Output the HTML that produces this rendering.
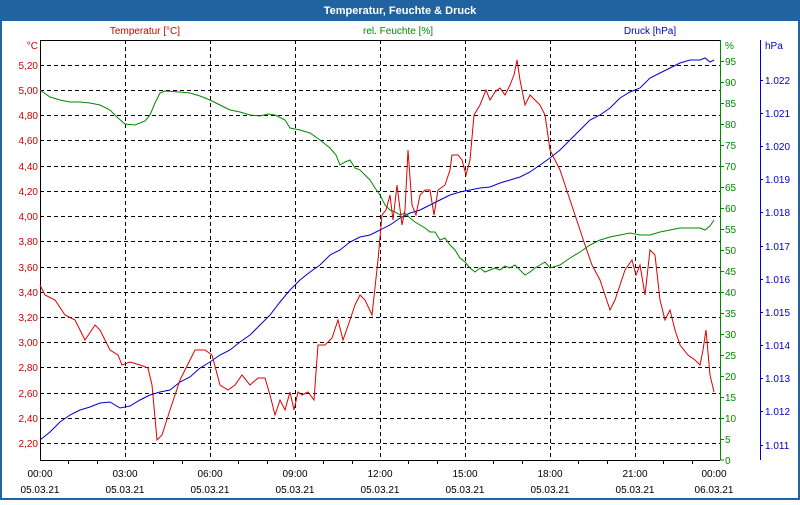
<!DOCTYPE html>
<html><head><meta charset="utf-8"><style>
body{margin:0;width:800px;height:500px;overflow:hidden;background:#fff;font-family:"Liberation Sans",sans-serif}
</style></head><body>
<svg width="800" height="500" xmlns="http://www.w3.org/2000/svg" font-family="Liberation Sans, sans-serif" font-size="10">
<rect x="0" y="0" width="800" height="500" fill="#2163a0"/>
<rect x="2" y="21" width="796" height="477" fill="#fff"/>
<text x="400" y="14" fill="#fff" font-weight="bold" font-size="11" text-anchor="middle">Temperatur, Feuchte &amp; Druck</text>
<text x="145" y="34" fill="#c00" text-anchor="middle">Temperatur [°C]</text>
<text x="398" y="34" fill="#080" text-anchor="middle">rel. Feuchte [%]</text>
<text x="650" y="34" fill="#00c" text-anchor="middle">Druck [hPa]</text>
<g stroke="#000" stroke-dasharray="4,3" stroke-width="1">
<path d="M125.5 40V460M210.5 40V460M295.5 40V460M380.5 40V460M465.5 40V460M550.5 40V460M635.5 40V460"/>
<path d="M40 65.5H720M40 90.5H720M40 115.5H720M40 140.5H720M40 166.5H720M40 191.5H720M40 216.5H720M40 241.5H720M40 267.5H720M40 292.5H720M40 317.5H720M40 342.5H720M40 367.5H720M40 393.5H720M40 418.5H720M40 443.5H720"/>
</g>
<path d="M40.5 460V40.5H720" stroke="#000" fill="none"/>
<path d="M40 460.5H720" stroke="#000"/>
<g stroke="#000"><path d="M68.5 460v4M97.5 460v4M153.5 460v4M182.5 460v4M238.5 460v4M267.5 460v4M323.5 460v4M352.5 460v4M408.5 460v4M437.5 460v4M493.5 460v4M522.5 460v4M578.5 460v4M607.5 460v4M663.5 460v4M692.5 460v4"/></g>
<path d="M720.5 40V460" stroke="#080"/>
<g stroke="#080"><path d="M720 61.5h4M720 82.5h4M720 103.5h4M720 124.5h4M720 145.5h4M720 166.5h4M720 187.5h4M720 208.5h4M720 229.5h4M720 250.5h4M720 271.5h4M720 292.5h4M720 313.5h4M720 334.5h4M720 355.5h4M720 376.5h4M720 397.5h4M720 418.5h4M720 439.5h4M720 460h4"/></g>
<path d="M760.5 40V460" stroke="#00c"/>
<g stroke="#00c"><path d="M760 80.5h3M760 113.5h3M760 146.5h3M760 179.5h3M760 212.5h3M760 246.5h3M760 279.5h3M760 312.5h3M760 345.5h3M760 378.5h3M760 411.5h3M760 445.5h3"/></g>
<g fill="#c00" text-anchor="end">
<text x="38" y="49">°C</text>
<text x="38" y="69">5,20</text><text x="38" y="94">5,00</text><text x="38" y="119">4,80</text><text x="38" y="144">4,60</text><text x="38" y="170">4,40</text><text x="38" y="195">4,20</text><text x="38" y="220">4,00</text><text x="38" y="245">3,80</text><text x="38" y="271">3,60</text><text x="38" y="296">3,40</text><text x="38" y="321">3,20</text><text x="38" y="346">3,00</text><text x="38" y="371">2,80</text><text x="38" y="397">2,60</text><text x="38" y="422">2,40</text><text x="38" y="447">2,20</text>
</g>
<g fill="#080">
<text x="725" y="49">%</text>
<text x="725" y="65">95</text><text x="725" y="86">90</text><text x="725" y="107">85</text><text x="725" y="128">80</text><text x="725" y="149">75</text><text x="725" y="170">70</text><text x="725" y="191">65</text><text x="725" y="212">60</text><text x="725" y="233">55</text><text x="725" y="254">50</text><text x="725" y="275">45</text><text x="725" y="296">40</text><text x="725" y="317">35</text><text x="725" y="338">30</text><text x="725" y="359">25</text><text x="725" y="380">20</text><text x="725" y="401">15</text><text x="725" y="422">10</text><text x="725" y="443">5</text><text x="725" y="464">0</text>
</g>
<g fill="#00c">
<text x="765" y="49">hPa</text>
<text x="765" y="84">1.022</text><text x="765" y="117">1.021</text><text x="765" y="150">1.020</text><text x="765" y="183">1.019</text><text x="765" y="216">1.018</text><text x="765" y="250">1.017</text><text x="765" y="283">1.016</text><text x="765" y="316">1.015</text><text x="765" y="349">1.014</text><text x="765" y="382">1.013</text><text x="765" y="415">1.012</text><text x="765" y="449">1.011</text>
</g>
<g fill="#000" text-anchor="middle">
<text x="40" y="477">00:00</text><text x="125" y="477">03:00</text><text x="210" y="477">06:00</text><text x="295" y="477">09:00</text><text x="380" y="477">12:00</text><text x="465" y="477">15:00</text><text x="550" y="477">18:00</text><text x="635" y="477">21:00</text><text x="714" y="477">00:00</text>
<text x="40" y="493">05.03.21</text><text x="125" y="493">05.03.21</text><text x="210" y="493">05.03.21</text><text x="295" y="493">05.03.21</text><text x="380" y="493">05.03.21</text><text x="465" y="493">05.03.21</text><text x="550" y="493">05.03.21</text><text x="635" y="493">05.03.21</text><text x="714" y="493">06.03.21</text>
</g>
<polyline fill="none" stroke="#00c" points="40,440 50,432 60,422 70,415 80,410 90,407 100,403 110,402 120,408 130,406 140,400 150,395 160,392 170,390 180,382 190,377 200,368 210,362 220,355 230,350 240,342 250,335 260,325 270,315 280,302 290,290 300,280 310,272 320,265 330,255 340,250 350,242 360,237 370,235 380,230 390,225 400,218 410,213 420,210 430,205 440,200 450,195 460,192 470,190 480,188 490,187 500,183 510,180 520,177 530,172 540,165 550,158 560,150 570,140 580,130 590,120 600,115 610,108 620,98 630,92 640,88 650,78 660,73 670,68 680,63 690,60 700,60 705,58 710,62 714,60"/>
<polyline fill="none" stroke="#080" points="40,90 50,97 60,100 70,102 80,102 90,103 100,105 110,110 118,118 125,124 135,125 145,121 150,115 155,103 160,93 165,91 180,92 190,93 200,96 210,100 220,105 230,110 240,112 250,115 260,116 268,114 275,115 285,120 290,128 300,130 310,133 320,140 330,148 336,155 340,165 345,162 350,160 355,168 360,170 365,175 370,180 375,188 380,195 385,205 390,210 395,212 400,215 405,213 410,218 415,222 420,225 425,228 430,232 435,232 440,240 445,238 450,245 455,250 460,258 465,262 470,268 475,272 480,268 485,272 490,270 495,268 500,270 505,266 510,268 515,265 520,270 525,275 530,272 535,268 540,265 545,262 550,268 560,265 570,258 580,252 590,245 600,240 610,237 620,235 630,233 640,235 650,235 660,232 670,230 680,228 690,228 700,228 705,230 710,226 714,220"/>
<polyline fill="none" stroke="#d00" points="40,285 45,295 55,300 65,315 75,320 85,340 95,325 100,330 110,350 118,355 122,365 130,362 140,365 148,368 152,385 157,440 162,435 170,410 180,380 190,360 195,350 205,350 212,355 220,385 228,390 235,385 242,375 250,385 258,378 265,378 270,395 275,415 280,400 285,410 290,392 294,410 298,392 302,395 308,392 314,400 318,345 325,345 332,338 338,320 343,340 350,320 355,305 360,295 365,300 372,315 378,260 382,215 386,210 390,195 393,220 397,185 402,225 405,210 408,150 412,205 416,215 420,195 425,190 430,190 434,215 438,190 445,185 450,170 452,155 458,155 462,160 466,175 470,160 474,115 480,105 486,90 490,100 495,92 500,88 505,95 510,85 514,75 517,60 520,80 525,105 530,95 535,100 540,105 545,115 550,150 555,160 560,170 565,185 570,200 575,215 580,230 585,245 592,265 600,280 605,295 610,310 615,300 620,285 625,270 632,260 636,275 640,265 645,295 650,250 655,255 660,300 665,320 670,310 675,330 680,345 688,355 695,360 700,365 703,350 706,330 710,375 714,392"/>
</svg>
</body></html>
